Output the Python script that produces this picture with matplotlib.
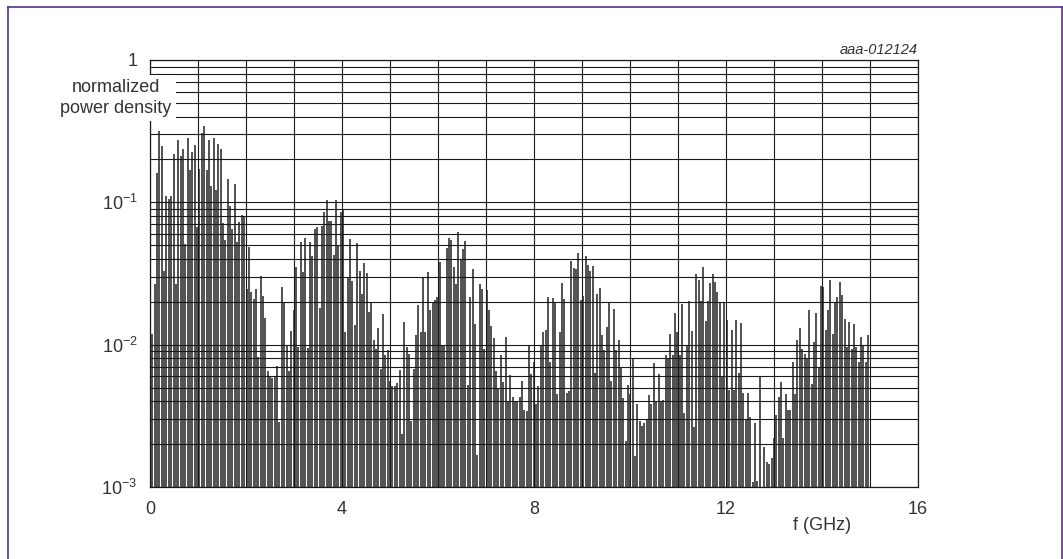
import numpy as np
import matplotlib
matplotlib.use("Agg")
import matplotlib.pyplot as plt
from matplotlib.lines import Line2D
from matplotlib.ticker import FixedLocator, LogLocator, NullFormatter

plt.rcParams['font.family'] = ['Liberation Sans', 'DejaVu Sans']
plt.rcParams['mathtext.fontset'] = 'custom'
plt.rcParams['mathtext.rm'] = 'Liberation Sans'
plt.rcParams['mathtext.it'] = 'Liberation Sans:italic'

# normalized power density, one value per spectral line
psd_0_2 = [0.358, 0.0118, 0.0267, 0.161, 0.315, 0.25, 0.033, 0.111, 0.106, 0.111,
           0.218, 0.0267, 0.276, 0.212, 0.238, 0.051, 0.282, 0.168, 0.226, 0.254,
           0.067, 0.172, 0.308, 0.343, 0.17, 0.276, 0.13, 0.284, 0.122, 0.259,
           0.238, 0.0715, 0.054, 0.145, 0.095, 0.0645, 0.134, 0.053, 0.073, 0.081, 0.08]
psd_2_4 = [0.0247, 0.0485, 0.0233, 0.021, 0.0247, 0.0082, 0.0306, 0.0218, 0.0154, 0.00656,
           0.00589, 0.0058, 0.006, 0.00703, 0.00284, 0.0256, 0.0195, 0.00984, 0.00656, 0.0124,
           0.0176, 0.0354, 0.0096, 0.0526, 0.0323, 0.0561, 0.0095, 0.053, 0.0419, 0.0652,
           0.067, 0.0181, 0.0678, 0.085, 0.1045, 0.0735, 0.0735, 0.043, 0.1045, 0.0504, 0.085]
psd_4_6 = [0.0902, 0.0122, 0.0298, 0.0555, 0.0278, 0.0138, 0.052, 0.0327, 0.0228, 0.0376,
           0.032, 0.0169, 0.0199, 0.0107, 0.0093, 0.0132, 0.0068, 0.0163, 0.0084, 0.0091,
           0.0056, 0.0051, 0.0051, 0.0054, 0.0066, 0.00235, 0.0145, 0.0097, 0.0086, 0.0029,
           0.0067, 0.0116, 0.0191, 0.0122, 0.0298, 0.0122, 0.0323, 0.0174, 0.0195, 0.0206, 0.0215]
psd_6_8 = [0.038, 0.0098, 0.0098, 0.048, 0.0564, 0.0546, 0.0354, 0.0267, 0.0618, 0.0401,
           0.0472, 0.0534, 0.0052, 0.0215, 0.0341, 0.014, 0.00168, 0.0267, 0.0247, 0.0093,
           0.0243, 0.0174, 0.0135, 0.0111, 0.0065, 0.0049, 0.0085, 0.0055, 0.0113, 0.004,
           0.0061, 0.0043, 0.004, 0.004, 0.0043, 0.0056, 0.0035, 0.0034, 0.01, 0.0062, 0.0075]
psd_8_10 = [0.0038, 0.0051, 0.0098, 0.0122, 0.0127, 0.0215, 0.0076, 0.0213, 0.0201, 0.0045,
            0.0122, 0.0273, 0.021, 0.0046, 0.0047, 0.0384, 0.0345, 0.0341, 0.044, 0.0206,
            0.0221, 0.0417, 0.036, 0.0327, 0.0358, 0.0063, 0.0228, 0.0251, 0.0116, 0.0091,
            0.0134, 0.0195, 0.0056, 0.0178, 0.0092, 0.0108, 0.0069, 0.0042, 0.0021, 0.0052,
            0.0045, 0.0081, 0.00165]
psd_10_15 = [0.0038, 0.0029, 0.0027, 0.0028, 0.003, 0.0044, 0.0038, 0.0074, 0.004, 0.0062,
             0.004, 0.0041, 0.0085, 0.0079, 0.0119, 0.0084, 0.0166, 0.0122, 0.0084, 0.0193,
             0.0033, 0.0098, 0.0204, 0.0124, 0.00265, 0.0315, 0.0285, 0.0204, 0.0354, 0.0146,
             0.0204, 0.027, 0.0315, 0.0275, 0.0236, 0.0199, 0.006, 0.0199, 0.0149, 0.0048,
             0.0127, 0.0048, 0.0149, 0.0063, 0.0141, 0.0046, 0.003, 0.0046, 0.0031, 0.00109,
             0.0028, 0.0011, 0.006, 0.001, 0.0019, 0.0015, 0.00145, 0.0016, 0.0022, 0.0032,
             0.0043, 0.0055, 0.0022, 0.0045, 0.0035, 0.0035, 0.0075, 0.0045, 0.0108, 0.0131,
             0.0093, 0.0086, 0.0079, 0.0174, 0.0053, 0.0104, 0.0166, 0.0069, 0.026, 0.0256,
             0.0127, 0.0174, 0.0285, 0.0119, 0.0199, 0.0215, 0.0275, 0.0225, 0.0152, 0.0096,
             0.0144, 0.0093, 0.014, 0.0096, 0.0075, 0.0113, 0.0098, 0.0075, 0.0117]

f_last = 14.96  # GHz, last spectral line
x_ticks = [0, 4, 8, 12, 16]
y_ticks = [1e-3, 1e-2, 1e-1, 1]
y_ticklabels = [r'$\mathregular{10^{-3}}$', r'$\mathregular{10^{-2}}$',
                r'$\mathregular{10^{-1}}$', '1']

psd = np.concatenate([psd_0_2, psd_2_4, psd_4_6, psd_6_8, psd_8_10, psd_10_15])
freq = np.arange(len(psd)) * f_last / (len(psd) - 1)

W, H = 1063, 559
fig = plt.figure(figsize=(W / 100, H / 100), dpi=100)
ax = fig.add_axes([150 / W, 1 - 487 / H, 768 / W, 427 / H])

ax.vlines(freq, 1e-3, psd, colors='#333333', lw=1.2, zorder=2)

ax.set_yscale('log')
ax.set_xlim(0, 16)
ax.set_ylim(1e-3, 1)
ax.xaxis.set_major_locator(FixedLocator(x_ticks))
ax.xaxis.set_minor_locator(FixedLocator(np.arange(0, 17, 1)))
ax.set_yticks(y_ticks)
ax.set_yticklabels(y_ticklabels)
ax.yaxis.set_minor_locator(LogLocator(base=10, subs=np.arange(2, 10)))
ax.yaxis.set_minor_formatter(NullFormatter())
ax.tick_params(which='both', length=0, labelsize=13, labelcolor='#333333')
ax.tick_params(axis='x', pad=10)
ax.tick_params(axis='y', pad=9)

ax.grid(True, which='both', color='#1a1a1a', lw=0.8, zorder=3)
ax.set_axisbelow(False)
for s in ax.spines.values():
    s.set_color('#1a1a1a')
    s.set_linewidth(0.9)

fig.text(116 / W, 1 - 98 / H, 'normalized\npower density', ha='center', va='center',
         fontsize=13, color='#333333', linespacing=1.25,
         bbox=dict(facecolor='white', edgecolor='none', pad=3), zorder=5)
fig.text(822 / W, 1 - 526 / H, 'f (GHz)', ha='center', va='center',
         fontsize=13, color='#333333')
fig.text(918 / W, 1 - 50 / H, 'aaa-012124', ha='right', va='center',
         fontsize=10.5, style='italic', color='#333333')

# purple page frame
pc = '#5b2c8f'
fig.add_artist(Line2D([7.5 / W, 1061.5 / W], [1 - 6.5 / H, 1 - 6.5 / H], color=pc, lw=1.2))
fig.add_artist(Line2D([7.5 / W, 7.5 / W], [0, 1 - 6.5 / H], color=pc, lw=1.2))
fig.add_artist(Line2D([1061.5 / W, 1061.5 / W], [0, 1 - 6.5 / H], color=pc, lw=1.2))

fig.savefig('out.png', dpi=100)
